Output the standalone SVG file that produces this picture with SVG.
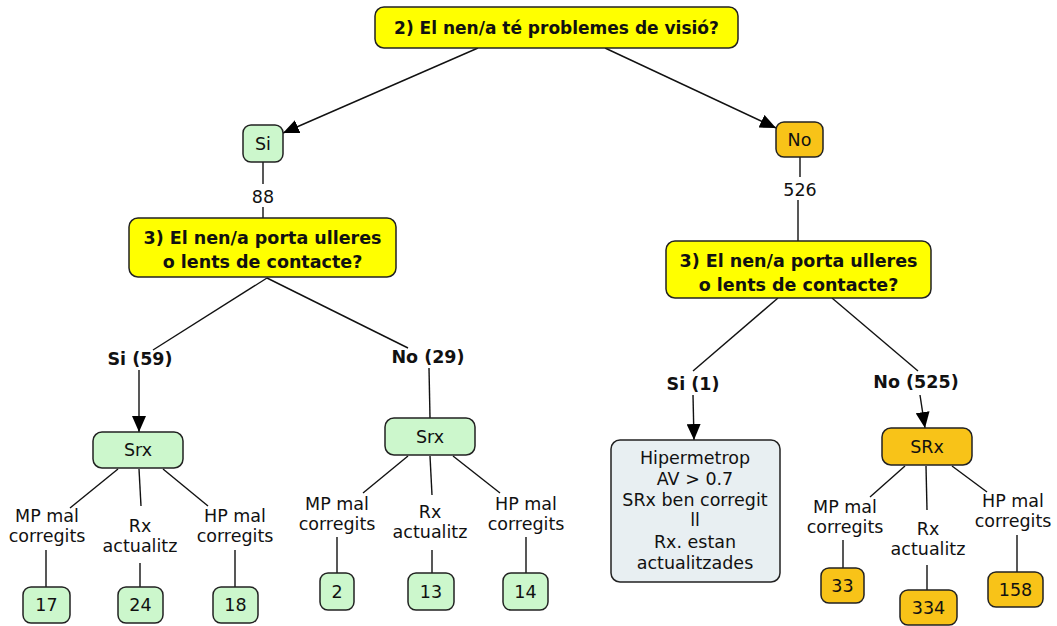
<svg xmlns="http://www.w3.org/2000/svg" width="1057" height="626" viewBox="0 0 1057 626">
  <defs>
    <marker id="arrow" viewBox="0 0 16 14" refX="16" refY="7" markerWidth="16" markerHeight="14" markerUnits="userSpaceOnUse" orient="auto">
      <path d="M0,0 L16,7 L0,14 Z" fill="#000"/>
    </marker>
    <style>
      text { font-family: "DejaVu Sans", Verdana, sans-serif; fill: #111; text-anchor: middle; }
      .q { font-size: 17px; font-weight: bold; }
      .q3 { font-size: 17.5px; font-weight: bold; }
      .lbl { font-size: 17.5px; font-weight: bold; }
      .t { font-size: 17.5px; }
      .box { stroke: #222; stroke-width: 1.5; }
      .yellow { fill: #ffff00; }
      .green { fill: #ccf7cc; }
      .orange { fill: #f8c318; }
      .grey { fill: #e8eff2; }
      .edge { stroke: #111; stroke-width: 1.4; fill: none; }
      .arr { marker-end: url(#arrow); }
    </style>
  </defs>
  <rect width="1057" height="626" fill="#fff"/>

  <!-- connectors -->
  <g id="connectors">
    <line class="edge arr" x1="478" y1="48" x2="283" y2="133"/>
    <line class="edge arr" x1="605" y1="48" x2="776" y2="128"/>
    <line class="edge" x1="263" y1="162" x2="263" y2="184"/>
    <line class="edge" x1="263" y1="207" x2="263" y2="218"/>
    <line class="edge" x1="800" y1="157" x2="800" y2="177"/>
    <line class="edge" x1="798" y1="200" x2="798" y2="241"/>
    <!-- left question branches -->
    <line class="edge" x1="267" y1="278" x2="153" y2="350"/>
    <line class="edge" x1="267" y1="278" x2="408" y2="348"/>
    <line class="edge arr" x1="139" y1="370" x2="139" y2="432"/>
    <line class="edge" x1="429" y1="368" x2="430" y2="418"/>
    <!-- right question branches -->
    <line class="edge" x1="778" y1="298" x2="693" y2="371"/>
    <line class="edge" x1="832" y1="298" x2="918" y2="371"/>
    <line class="edge arr" x1="693" y1="395" x2="694" y2="440"/>
    <line class="edge arr" x1="920" y1="395" x2="925" y2="428"/>
    <!-- Srx (left) -->
    <line class="edge" x1="118" y1="469" x2="70" y2="508"/>
    <line class="edge" x1="139" y1="469" x2="141" y2="506"/>
    <line class="edge" x1="163" y1="469" x2="208" y2="506"/>
    <line class="edge" x1="46" y1="550" x2="46" y2="587"/>
    <line class="edge" x1="140" y1="563" x2="140" y2="587"/>
    <line class="edge" x1="235" y1="550" x2="235" y2="587"/>
    <!-- Srx (middle) -->
    <line class="edge" x1="408" y1="456" x2="363" y2="493"/>
    <line class="edge" x1="430" y1="456" x2="432" y2="495"/>
    <line class="edge" x1="453" y1="456" x2="500" y2="493"/>
    <line class="edge" x1="337" y1="537" x2="337" y2="573"/>
    <line class="edge" x1="432" y1="550" x2="432" y2="573"/>
    <line class="edge" x1="526" y1="537" x2="526" y2="573"/>
    <!-- SRx (right) -->
    <line class="edge" x1="905" y1="466" x2="870" y2="497"/>
    <line class="edge" x1="926" y1="466" x2="927" y2="510"/>
    <line class="edge" x1="952" y1="466" x2="987" y2="492"/>
    <line class="edge" x1="843" y1="540" x2="843" y2="568"/>
    <line class="edge" x1="927" y1="565" x2="927" y2="590"/>
    <line class="edge" x1="1017" y1="535" x2="1017" y2="572"/>
  </g>

  <!-- linking labels -->
  <g id="labels">
    <text class="t" x="263" y="203">88</text>
    <text class="t" x="800" y="196">526</text>
    <text class="lbl" x="140" y="365">Si (59)</text>
    <text class="lbl" x="428" y="363">No (29)</text>
    <text class="lbl" x="693" y="390">Si (1)</text>
    <text class="lbl" x="916" y="388">No (525)</text>
    <text class="t" x="47" y="522">MP mal</text>
    <text class="t" x="47" y="542">corregits</text>
    <text class="t" x="140" y="532">Rx</text>
    <text class="t" x="140" y="552">actualitz</text>
    <text class="t" x="235" y="522">HP mal</text>
    <text class="t" x="235" y="542">corregits</text>
    <text class="t" x="337" y="510">MP mal</text>
    <text class="t" x="337" y="530">corregits</text>
    <text class="t" x="430" y="518">Rx</text>
    <text class="t" x="430" y="538">actualitz</text>
    <text class="t" x="526" y="510">HP mal</text>
    <text class="t" x="526" y="530">corregits</text>
    <text class="t" x="845" y="513">MP mal</text>
    <text class="t" x="845" y="533">corregits</text>
    <text class="t" x="928" y="535">Rx</text>
    <text class="t" x="928" y="555">actualitz</text>
    <text class="t" x="1013" y="507">HP mal</text>
    <text class="t" x="1013" y="527">corregits</text>
  </g>

  <g id="q2">
    <rect class="box yellow" x="375" y="7" width="363" height="41" rx="9"/>
    <text class="q" x="556.5" y="34">2) El nen/a té problemes de visió?</text>
  </g>
  <g id="si">
    <rect class="box green" x="243" y="125" width="40" height="37" rx="8"/>
    <text class="t" x="263" y="150">Si</text>
  </g>
  <g id="no">
    <rect class="box orange" x="776" y="122" width="47" height="35" rx="8"/>
    <text class="t" x="799.5" y="146">No</text>
  </g>
  <g id="q3-si">
    <rect class="box yellow" x="129" y="218" width="267" height="59" rx="9"/>
    <text class="q3" x="262.5" y="244">3) El nen/a porta ulleres</text>
    <text class="q3" x="262.5" y="268">o lents de contacte?</text>
  </g>
  <g id="q3-no">
    <rect class="box yellow" x="666" y="241" width="265" height="57" rx="9"/>
    <text class="q3" x="798.5" y="267">3) El nen/a porta ulleres</text>
    <text class="q3" x="798.5" y="291">o lents de contacte?</text>
  </g>
  <g id="srx-si">
    <rect class="box green" x="93" y="432" width="90" height="36" rx="9"/>
    <text class="t" x="138" y="456">Srx</text>
  </g>
  <g id="srx-no">
    <rect class="box green" x="385" y="418" width="90" height="37" rx="9"/>
    <text class="t" x="430" y="443">Srx</text>
  </g>
  <g id="hipermetrop">
    <rect class="box grey" x="611" y="440" width="169" height="142" rx="9"/>
    <text class="t" x="695" y="464">Hipermetrop</text>
    <text class="t" x="695" y="485">AV &gt; 0.7</text>
    <text class="t" x="695" y="506">SRx ben corregit</text>
    <text class="t" x="695" y="526">ll</text>
    <text class="t" x="695" y="548">Rx. estan</text>
    <text class="t" x="695" y="569">actualitzades</text>
  </g>
  <g id="srx-orange">
    <rect class="box orange" x="882" y="428" width="90" height="37" rx="9"/>
    <text class="t" x="927" y="453">SRx</text>
  </g>

  <!-- counts -->
  <g id="n17"><rect class="box green" x="23" y="587" width="47" height="36" rx="8"/><text class="t" x="46.5" y="611">17</text></g>
  <g id="n24"><rect class="box green" x="118" y="587" width="45" height="36" rx="8"/><text class="t" x="140.5" y="611">24</text></g>
  <g id="n18"><rect class="box green" x="213" y="587" width="45" height="36" rx="8"/><text class="t" x="235.5" y="611">18</text></g>
  <g id="n2"><rect class="box green" x="320" y="573" width="34" height="37" rx="8"/><text class="t" x="337" y="598">2</text></g>
  <g id="n13"><rect class="box green" x="408" y="573" width="46" height="37" rx="8"/><text class="t" x="431" y="598">13</text></g>
  <g id="n14"><rect class="box green" x="503" y="573" width="45" height="37" rx="8"/><text class="t" x="525.5" y="598">14</text></g>
  <g id="n33"><rect class="box orange" x="821" y="568" width="43" height="35" rx="8"/><text class="t" x="842.5" y="592">33</text></g>
  <g id="n334"><rect class="box orange" x="900" y="590" width="57" height="35" rx="8"/><text class="t" x="928.5" y="614">334</text></g>
  <g id="n158"><rect class="box orange" x="988" y="572" width="55" height="35" rx="8"/><text class="t" x="1015.5" y="596">158</text></g>
</svg>
